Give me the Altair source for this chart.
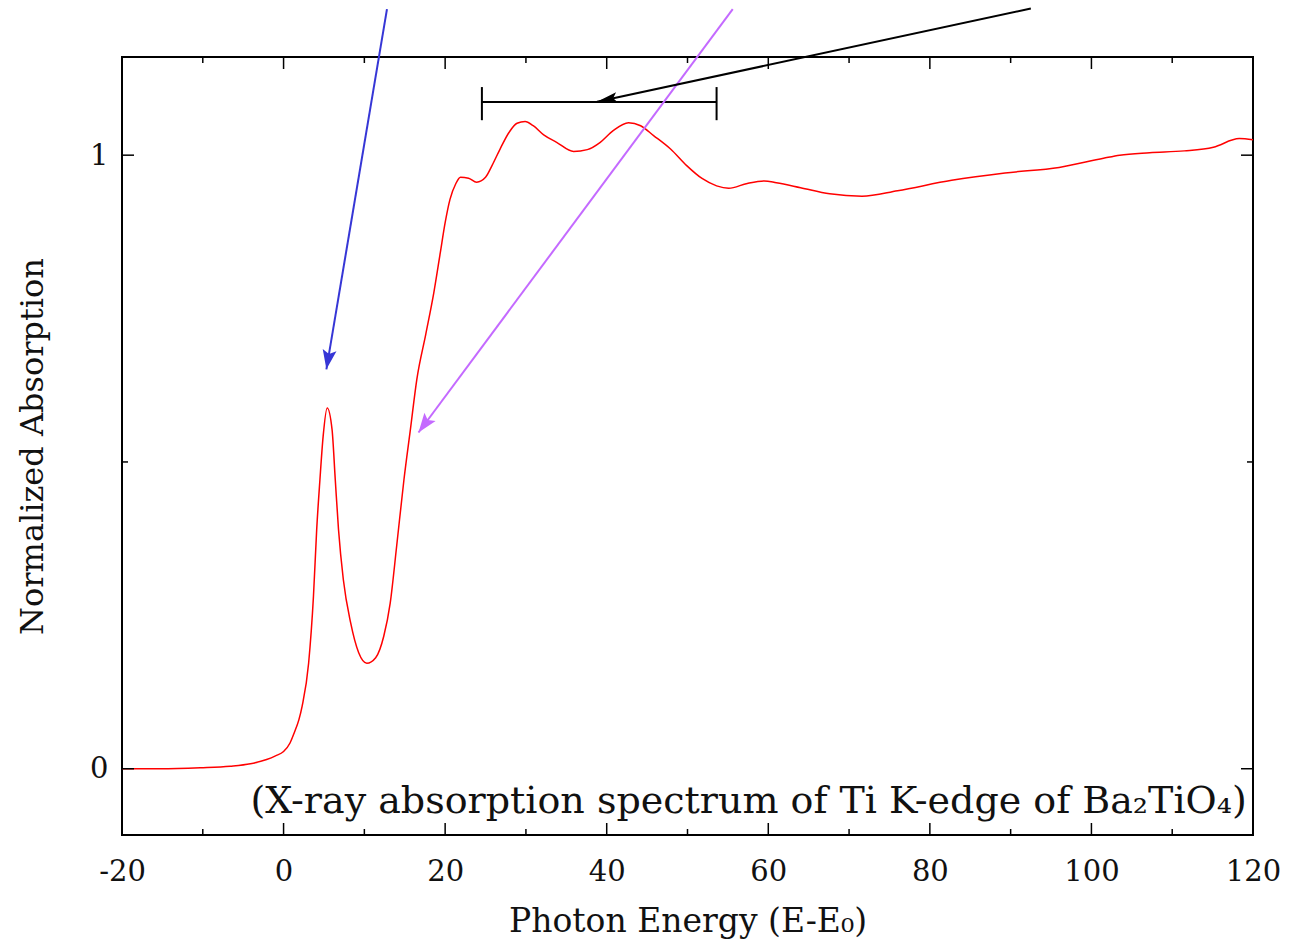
import math
import altair as alt
import pandas as pd

# ---- spectrum ----
energy = [-20, -15.3, -10.3, -6.6, -4.1, -2.1, -1.0, 0.0, 0.8, 1.3, 1.9, 2.3, 3.1, 3.7,
          4.1, 4.5, 4.9, 5.4, 6.0, 6.4, 6.8, 7.4, 8.3, 9.3, 10.3, 11.4, 12.4, 13.2,
          14.0, 14.9, 15.7, 16.5, 17.6, 18.6, 19.4, 20.0, 20.6, 21.3, 21.9, 22.9,
          23.9, 25.0, 25.8, 26.8, 27.9, 28.9, 29.9, 30.9, 32.2, 33.8, 35.9, 37.6,
          39.2, 40.8, 42.7, 44.2, 45.8, 47.9, 49.9, 51.8, 53.6, 55.1, 57.4, 59.5,
          61.0, 64.0, 67.6, 71.6, 76.0, 82.7, 89.3, 96.0, 101.5, 103.5, 107.2,
          111.5, 115.1, 118.3, 120.0]
absorb = [0.0, 0.0, 0.0016, 0.004, 0.008, 0.015, 0.021, 0.028, 0.042, 0.058, 0.08, 0.102,
          0.172, 0.281, 0.39, 0.471, 0.542, 0.588, 0.553, 0.471, 0.39, 0.308, 0.238,
          0.189, 0.172, 0.181, 0.216, 0.27, 0.363, 0.471, 0.553, 0.635, 0.708, 0.776,
          0.841, 0.89, 0.928, 0.953, 0.964, 0.9625, 0.956, 0.964, 0.983, 1.01, 1.037,
          1.052, 1.055, 1.048, 1.033, 1.021, 1.006, 1.009, 1.021, 1.04, 1.053, 1.048,
          1.032, 1.01, 0.983, 0.962, 0.95, 0.946, 0.954, 0.958, 0.955, 0.947, 0.937,
          0.933, 0.942, 0.959, 0.971, 0.98, 0.995, 1.0, 1.004, 1.007, 1.013, 1.027,
          1.025]

# ---- axes ----
x_domain = [-20, 120]
y_domain = [-0.108, 1.16]
x_labels = [-20, 0, 20, 40, 60, 80, 100, 120]
x_minor = [-10, 10, 30, 50, 70, 90, 110]
x_major_inner = [0, 20, 40, 60, 80, 100]
y_labels = [0, 1]
y_minor = [0.5]

# ---- annotation arrows (tail -> tip, data units) ----
arrow_name = ["blue", "purple", "black"]
arrow_x0 = [12.8, 55.6, 92.5]
arrow_y0 = [1.238, 1.238, 1.239]
arrow_x1 = [5.3, 16.7, 38.8]
arrow_y1 = [0.651, 0.548, 1.087]
arrow_color = ["#3636d6", "#c46aff", "#000000"]

# ---- range bar ----
bar_x = [24.55, 53.6]
bar_y = 1.0865
cap_y = [1.057, 1.111]

note_text = "(X-ray absorption spectrum of Ti K-edge of Ba₂TiO₄)"
note_x = -4.1
note_y = -0.055

W, H = 1131, 778
FONT = "DejaVu Serif"

sx = W / (x_domain[1] - x_domain[0])
sy = H / (y_domain[1] - y_domain[0])

xs = alt.Scale(domain=x_domain, nice=False, zero=False)
ys = alt.Scale(domain=y_domain, nice=False, zero=False)

spec = pd.DataFrame({"E": energy, "A": absorb})

line = alt.Chart(spec).mark_line(color="#ff0000", strokeWidth=1.5, interpolate="monotone").encode(
    x=alt.X("E:Q", scale=xs, axis=alt.Axis(values=x_labels, title="Photon Energy (E-E₀)",
                                          labelExpr="'' + datum.value",
                                          ticks=False, domain=False, grid=False, labelFont=FONT,
                                          labelFontSize=29, labelColor="#111", labelPadding=22,
                                          titleFont=FONT, titleFontSize=33, titleFontWeight="normal",
                                          titleColor="#111", titlePadding=19, labelFlush=False)),
    y=alt.Y("A:Q", scale=ys, axis=alt.Axis(values=y_labels, title="Normalized Absorption",
                                          labelExpr="'' + datum.value",
                                          ticks=False, domain=False, grid=False, labelFont=FONT,
                                          labelFontSize=29, labelColor="#111", labelPadding=14,
                                          titleFont=FONT, titleFontSize=32, titleFontWeight="normal",
                                          titleColor="#111", titlePadding=40)),
)

# inward ticks
def xticks(vals, length, top):
    df = pd.DataFrame({"v": vals})
    if top:
        yv, y2v = alt.value(0), alt.value(length)
    else:
        yv, y2v = alt.value(H), alt.value(H - length)
    return alt.Chart(df).mark_rule(color="#000", strokeWidth=1.5).encode(
        x=alt.X("v:Q", scale=xs), y=yv, y2=y2v)

def yticks(vals, length, right):
    df = pd.DataFrame({"v": vals})
    if right:
        xv, x2v = alt.value(W), alt.value(W - length)
    else:
        xv, x2v = alt.value(0), alt.value(length)
    return alt.Chart(df).mark_rule(color="#000", strokeWidth=1.5).encode(
        y=alt.Y("v:Q", scale=ys), x=xv, x2=x2v)

ticks = [xticks(x_major_inner, 12, False), xticks(x_minor, 6, False),
         xticks(x_major_inner, 12, True), xticks(x_minor, 6, True),
         yticks(y_labels, 12, False), yticks(y_minor, 6, False),
         yticks(y_labels, 12, True), yticks(y_minor, 6, True)]

# arrows
angles = []
for i in range(3):
    dx = (arrow_x1[i] - arrow_x0[i]) * sx
    dy = -(arrow_y1[i] - arrow_y0[i]) * sy
    angles.append(math.degrees(math.atan2(dx, -dy)) % 360)

arr = pd.DataFrame({"name": arrow_name, "x0": arrow_x0, "y0": arrow_y0, "x1": arrow_x1,
                    "y1": arrow_y1, "col": arrow_color, "ang": angles})

shafts = alt.Chart(arr).mark_rule(strokeWidth=2).encode(
    x=alt.X("x0:Q", scale=xs), y=alt.Y("y0:Q", scale=ys),
    x2="x1:Q", y2="y1:Q", color=alt.Color("col:N", scale=None))

head_path = "M0,0 L-0.36,1 L0,0.8 L0.36,1 Z"
heads = alt.Chart(arr[arr["name"] != "black"]).mark_point(
    shape=head_path, filled=True, size=1500, opacity=1, strokeWidth=0).encode(
    x=alt.X("x1:Q", scale=xs), y=alt.Y("y1:Q", scale=ys),
    color=alt.Color("col:N", scale=None), angle=alt.Angle("ang:Q", scale=None))

head_path_b = "M0,0 L-0.26,1 L0,0.8 L0.26,1 Z"
head_black = alt.Chart(arr[arr["name"] == "black"]).mark_point(
    shape=head_path_b, filled=True, size=1700, opacity=1, strokeWidth=0).encode(
    x=alt.X("x1:Q", scale=xs), y=alt.Y("y1:Q", scale=ys),
    color=alt.Color("col:N", scale=None), angle=alt.Angle("ang:Q", scale=None))

# range bar
bar_df = pd.DataFrame({"xa": [bar_x[0]], "xb": [bar_x[1]], "y": [bar_y]})
bar = alt.Chart(bar_df).mark_rule(color="#000", strokeWidth=2).encode(
    x=alt.X("xa:Q", scale=xs), x2="xb:Q", y=alt.Y("y:Q", scale=ys))
caps_df = pd.DataFrame({"x": bar_x, "ya": [cap_y[0]] * 2, "yb": [cap_y[1]] * 2})
caps = alt.Chart(caps_df).mark_rule(color="#000", strokeWidth=2).encode(
    x=alt.X("x:Q", scale=xs), y=alt.Y("ya:Q", scale=ys), y2="yb:Q")

note = alt.Chart(pd.DataFrame({"x": [note_x], "y": [note_y], "t": [note_text]})).mark_text(
    align="left", baseline="middle", font=FONT, fontSize=38, color="#111").encode(
    x=alt.X("x:Q", scale=xs), y=alt.Y("y:Q", scale=ys), text="t:N")

chart = alt.layer(line, *ticks, bar, caps, shafts, heads, head_black, note).properties(
    width=W, height=H,
    padding={"left": 122, "top": 57, "right": 36, "bottom": 112},
    autosize=alt.AutoSizeParams(type="none"),
    background="white",
).configure_view(stroke="#000", strokeWidth=2)

chart.save("out.html", embed_options={"renderer": "svg", "actions": False})
